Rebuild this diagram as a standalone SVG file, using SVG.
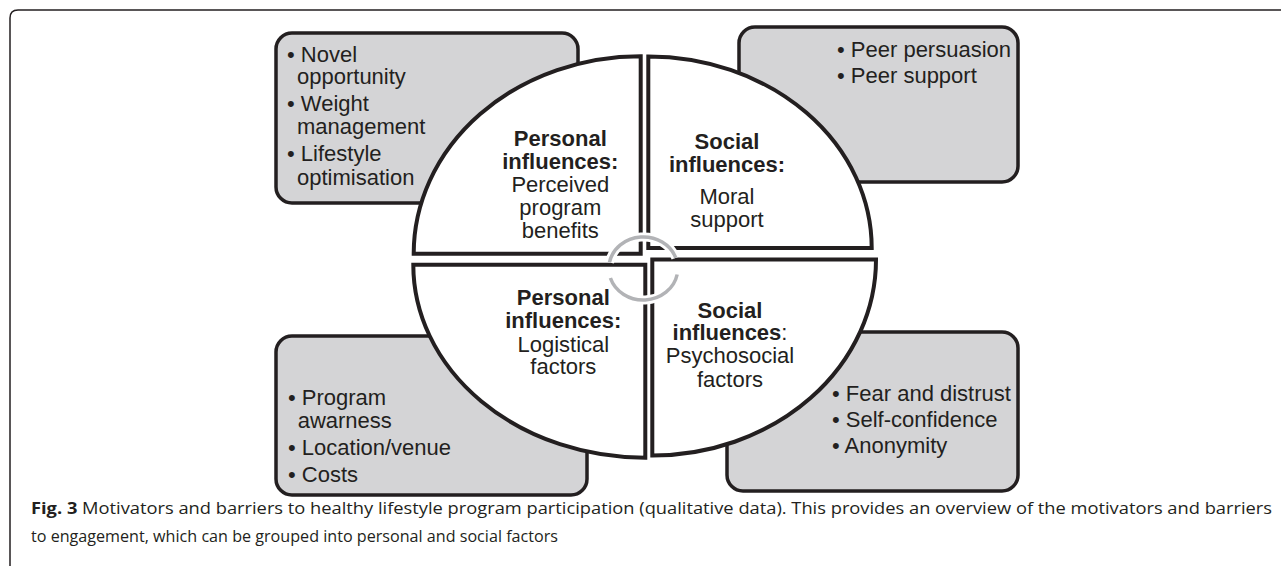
<svg xmlns="http://www.w3.org/2000/svg" width="1281" height="566" viewBox="0 0 1281 566">
<style>
.box{fill:#d4d4d6;stroke:#231f20;stroke-width:3.5}
.q{fill:#ffffff;stroke:#231f20;stroke-width:4}
.t{font-family:"Liberation Sans",Arial,sans-serif;font-size:22px;fill:#231f20}
.c{text-anchor:middle}
.b{font-weight:bold}
.cap{font-family:"Open Sans","Noto Sans",sans-serif;font-size:16.5px;fill:#231f20}
.halo{fill:none;stroke:#ffffff;stroke-width:9}
.ring{fill:none;stroke:#b2b3b6;stroke-width:3.5}
</style>
<rect width="1281" height="566" fill="#ffffff"/>
<path d="M10,566 V18 Q10,10 18,10 H1281" fill="none" stroke="#231f20" stroke-width="1.5"/>

<g id="box-motivators-personal">
<rect class="box" x="276" y="33" width="302" height="170" rx="16"/>
<text class="t" x="287" y="61.7">• Novel</text>
<text class="t" x="297" y="84.3">opportunity</text>
<text class="t" x="287" y="111">• Weight</text>
<text class="t" x="297" y="134.3">management</text>
<text class="t" x="287" y="161">• Lifestyle</text>
<text class="t" x="297" y="185">optimisation</text>
</g>

<g id="box-motivators-social">
<rect class="box" x="739" y="27" width="279" height="155" rx="16"/>
<text class="t" x="837" y="56.7">• Peer persuasion</text>
<text class="t" x="837" y="83.3">• Peer support</text>
</g>

<g id="box-barriers-personal">
<rect class="box" x="276" y="336" width="311" height="159" rx="16"/>
<text class="t" x="288" y="405">• Program</text>
<text class="t" x="297.7" y="428.3">awarness</text>
<text class="t" x="288" y="455">• Location/venue</text>
<text class="t" x="288" y="481.7">• Costs</text>
</g>

<g id="box-barriers-social">
<rect class="box" x="727" y="332" width="291" height="159" rx="16"/>
<text class="t" x="832" y="401">• Fear and distrust</text>
<text class="t" x="832" y="427.3">• Self-confidence</text>
<text class="t" x="832" y="453.3">• Anonymity</text>
</g>

<g id="quadrant-personal-benefits">
<path class="q" d="M640.7,253.7 H413.7 A227,197.5 0 0 1 640.7,56.2 Z"/>
<text class="t c b" x="560.3" y="146">Personal</text>
<text class="t c b" x="560.3" y="169">influences:</text>
<text class="t c" x="560.3" y="192.3">Perceived</text>
<text class="t c" x="560.3" y="215">program</text>
<text class="t c" x="560.3" y="237.7">benefits</text>
</g>

<g id="quadrant-social-moral">
<path class="q" d="M648.3,248 V56.5 A223.4,191.5 0 0 1 871.7,248 Z"/>
<text class="t c b" x="727" y="149.3">Social</text>
<text class="t c b" x="727" y="172.3">influences:</text>
<text class="t c" x="727" y="204.3">Moral</text>
<text class="t c" x="727" y="226.7">support</text>
</g>

<g id="quadrant-personal-logistical">
<path class="q" d="M645.3,264.7 V457.7 A232,193 0 0 1 413.3,264.7 Z"/>
<text class="t c b" x="563.3" y="305">Personal</text>
<text class="t c b" x="563.3" y="328.3">influences:</text>
<text class="t c" x="563.3" y="351.7">Logistical</text>
<text class="t c" x="563.3" y="374.3">factors</text>
</g>

<g id="quadrant-social-psychosocial">
<path class="q" d="M652.3,259.5 H876 A223.7,196 0 0 1 652.3,455.5 Z"/>
<text class="t c b" x="730" y="317.7">Social</text>
<text class="t c" x="730" y="340"><tspan class="b">influences</tspan>:</text>
<text class="t c" x="730" y="363.3">Psychosocial</text>
<text class="t c" x="730" y="386.7">factors</text>
</g>

<g id="connectors">
<path class="halo" d="M609.43,262.49 A34.5,31.5 0 0 1 675.82,257.98"/>
<path class="halo" d="M677.17,274.51 A34.5,31.5 0 0 1 610.4,277.97"/>
<path class="ring" d="M609.43,262.49 A34.5,31.5 0 0 1 675.82,257.98"/>
<path class="ring" d="M677.17,274.51 A34.5,31.5 0 0 1 610.4,277.97"/>
</g>

<g id="caption">
<text class="cap" x="31" y="514" textLength="1241" lengthAdjust="spacingAndGlyphs"><tspan font-weight="bold">Fig. 3</tspan> Motivators and barriers to healthy lifestyle program participation (qualitative data). This provides an overview of the motivators and barriers</text>
<text class="cap" x="31" y="542" textLength="527" lengthAdjust="spacingAndGlyphs">to engagement, which can be grouped into personal and social factors</text>
</g>
</svg>
